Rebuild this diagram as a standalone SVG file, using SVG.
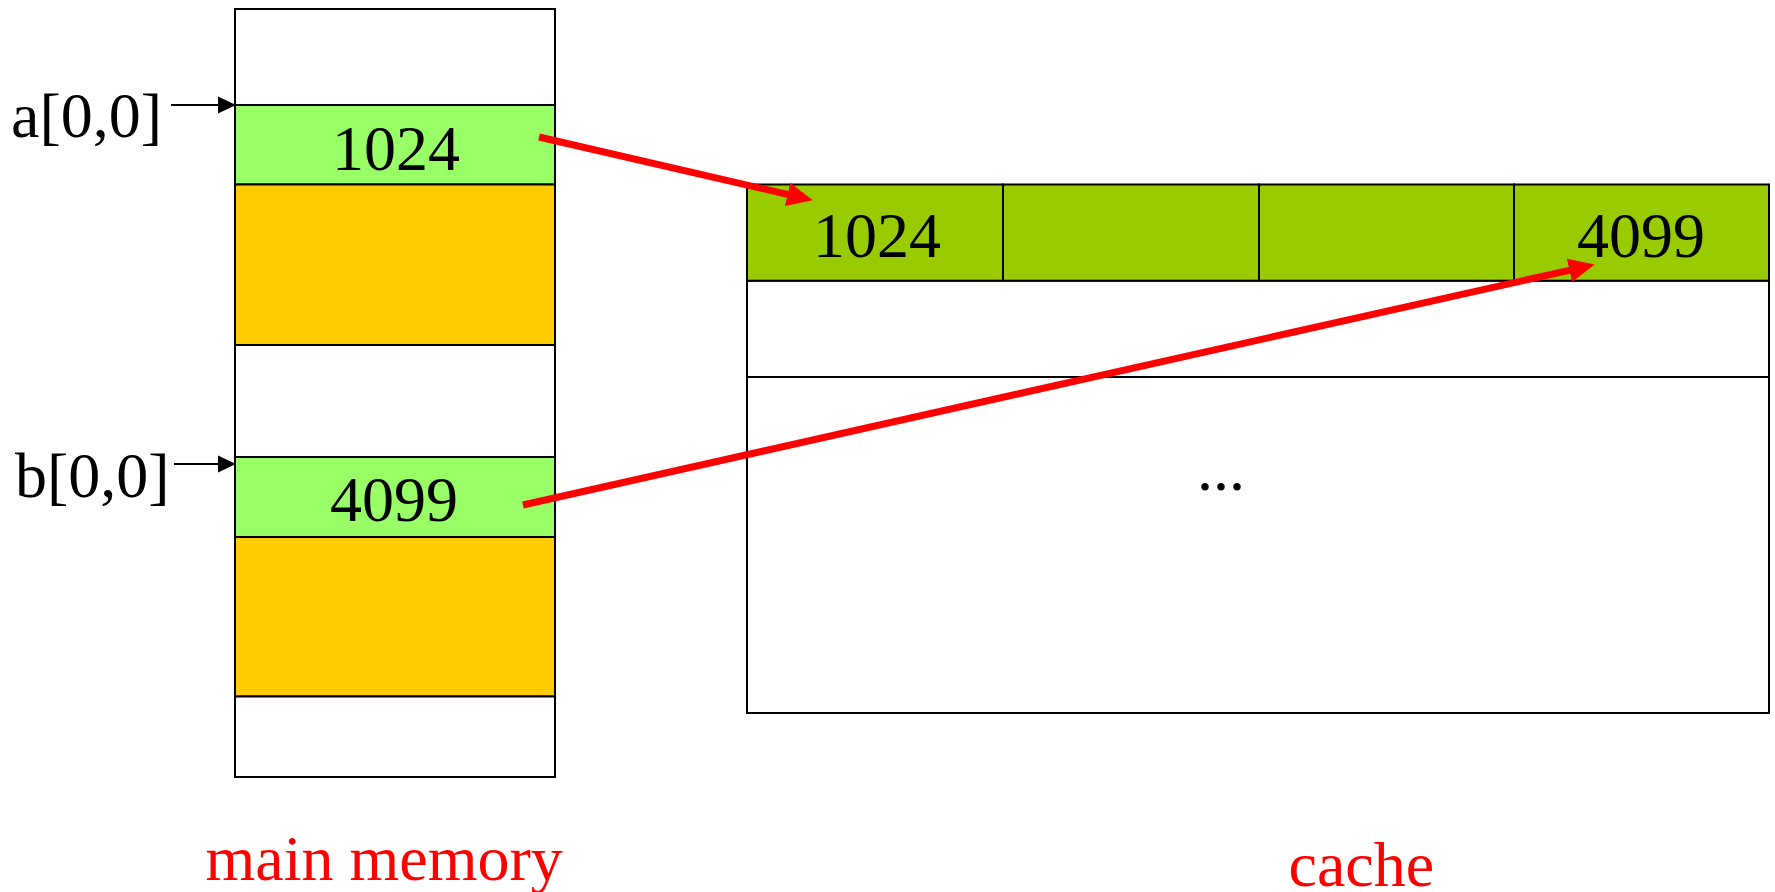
<svg xmlns="http://www.w3.org/2000/svg" width="1775" height="892" viewBox="0 0 1775 892">
  <style>
    .cell { stroke: #000; stroke-width: 2; }
    .white { fill: #FFFFFF; }
    .lime { fill: #99FF66; }
    .amber { fill: #FFCC00; }
    .olive { fill: #99CC00; }
    .txt { font-family: "Liberation Serif", "Times New Roman", serif; font-size: 64px; fill: #000; }
    .caption { font-family: "Liberation Serif", "Times New Roman", serif; font-size: 64px; fill: #FF0000; }
    .ptr { stroke: #000; stroke-width: 2; fill: none; }
    .map { stroke: #FF0000; stroke-width: 7; fill: none; }
  </style>
  <defs>
    <marker id="head-black" markerUnits="userSpaceOnUse" markerWidth="18" markerHeight="18" viewBox="0 -8 16 16" refX="0" refY="0" orient="auto">
      <path d="M0,-7.5 L16,0 L0,7.5 z" fill="#000"/>
    </marker>
    <marker id="head-red" markerUnits="userSpaceOnUse" markerWidth="26" markerHeight="26" viewBox="0 -12 24 24" refX="2" refY="0" orient="auto">
      <path d="M0,-11 L24,0 L0,11 z" fill="#FF0000"/>
    </marker>
  </defs>

  <rect x="0" y="0" width="1775" height="892" fill="#FFFFFF"/>

  <!-- main memory column -->
  <g id="memory">
    <rect class="cell white" x="235" y="9" width="320" height="96"/>
    <rect class="cell lime" x="235" y="105" width="320" height="79.5"/>
    <rect class="cell amber" x="235" y="184.5" width="320" height="160.5"/>
    <rect class="cell white" x="235" y="345" width="320" height="112"/>
    <rect class="cell lime" x="235" y="457" width="320" height="80"/>
    <rect class="cell amber" x="235" y="537" width="320" height="159.5"/>
    <rect class="cell white" x="235" y="696.5" width="320" height="80.5"/>
    <text class="txt" x="396" y="169.5" text-anchor="middle">1024</text>
    <text class="txt" x="394" y="521" text-anchor="middle">4099</text>
  </g>

  <g id="label-a">
    <text class="txt" x="11" y="137">a[0,0]</text>
  </g>
  <g id="label-b">
    <text class="txt" x="15" y="497">b[0,0]</text>
  </g>

  <!-- cache block -->
  <g id="cache">
    <rect class="cell white" x="747" y="377" width="1022" height="336"/>
    <rect class="cell white" x="747" y="280.7" width="1022" height="96.3"/>
    <rect class="cell olive" x="747" y="184.5" width="256" height="96.2"/>
    <rect class="cell olive" x="1003" y="184.5" width="256" height="96.2"/>
    <rect class="cell olive" x="1259" y="184.5" width="255" height="96.2"/>
    <rect class="cell olive" x="1514" y="184.5" width="255" height="96.2"/>
    <text class="txt" x="877" y="257" text-anchor="middle">1024</text>
    <text class="txt" x="1641" y="257" text-anchor="middle">4099</text>
    <text class="txt" x="1197" y="490">...</text>
  </g>

  <g id="caption-memory">
    <text class="caption" x="205.5" y="880">main memory</text>
  </g>
  <g id="caption-cache">
    <text class="caption" x="1288.5" y="886">cache</text>
  </g>

  <!-- connectors -->
  <g id="connectors">
    <line class="ptr" x1="171" y1="105" x2="218" y2="105" marker-end="url(#head-black)"/>
    <line class="ptr" x1="174" y1="464" x2="218" y2="464" marker-end="url(#head-black)"/>
    <line class="map" x1="539" y1="137" x2="789.6" y2="194.9" marker-end="url(#head-red)"/>
    <line class="map" x1="523" y1="505" x2="1571.5" y2="269.8" marker-end="url(#head-red)"/>
  </g>
</svg>
